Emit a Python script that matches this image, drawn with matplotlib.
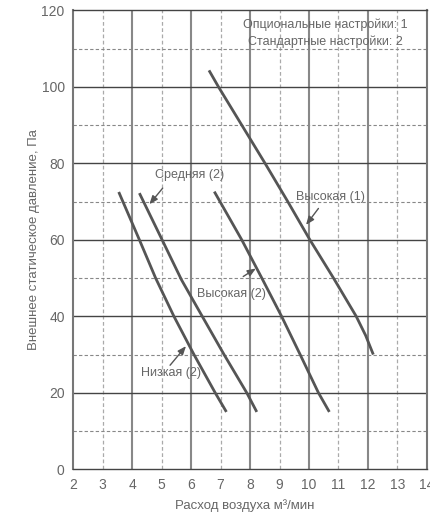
import matplotlib
matplotlib.use("Agg")
import matplotlib.pyplot as plt

plt.rcParams['font.family'] = ['Liberation Sans', 'DejaVu Sans']

# Curves (airflow m3/min, static pressure Pa)
low_x = [3.55, 4.25, 4.8, 5.42, 6.1, 6.82, 7.2]
low_y = [72.5, 60, 50, 40, 30, 20, 15]
mid_x = [4.25, 5.02, 5.68, 6.38, 7.12, 7.89, 8.23]
mid_y = [72.2, 60, 49.5, 40, 30, 20, 15]
high2_x = [6.79, 7.72, 8.4, 9.07, 9.7, 10.32, 10.69]
high2_y = [72.6, 60, 50, 40, 30, 20, 15]
high1_x = [6.61, 6.93, 7.72, 8.51, 9.28, 10.03, 10.83, 11.6, 11.92, 12.18]
high1_y = [104.3, 100, 90, 80, 70, 60, 50, 40, 35, 30]

x_ticks = list(range(2, 15))
y_ticks = [0, 20, 40, 60, 80, 100, 120]

labels = ["Низкая (2)", "Средняя (2)", "Высокая (2)", "Высокая (1)"]
label_xy = [(5.31, 25.2), (5.95, 77.0), (7.36, 45.8), (10.71, 71.1)]
arrow_tail = [(5.29, 27.2), (5.04, 73.5), (7.77, 50.4), (10.32, 68.2)]
arrow_head = [(5.83, 32.2), (4.59, 69.3), (8.2, 52.5), (9.9, 63.9)]
note_lines = ["Опциональные настройки: 1", "Стандартные настройки: 2"]

fig = plt.figure(figsize=(4.3, 5.23), dpi=100)
ax = fig.add_axes([0.1698, 0.1027, 0.8232, 0.8776])
ax.set_xlim(2, 14)
ax.set_ylim(0, 120)

line_col = '#555555'
text_col = '#666666'
# grid
for xv in x_ticks[1:-1]:
    if xv % 2 == 0:
        ax.axvline(xv, color='#888888', lw=1.5, zorder=1)
    else:
        ax.axvline(xv, color='#aaaaaa', lw=0.9, ls=(0, (3, 2)), zorder=1)
for yv in range(10, 120, 10):
    if yv % 20 == 0:
        ax.axhline(yv, color='#444444', lw=1.0, zorder=1)
    else:
        ax.axhline(yv, color='#888888', lw=0.8, ls=(0, (3, 2)), zorder=1)

for sp in ['top', 'bottom']:
    ax.spines[sp].set_color('#444444')
    ax.spines[sp].set_linewidth(1.0)
for sp in ['left', 'right']:
    ax.spines[sp].set_color('#777777')
    ax.spines[sp].set_linewidth(1.5)

for xs, ys in [(low_x, low_y), (mid_x, mid_y), (high2_x, high2_y), (high1_x, high1_y)]:
    ax.plot(xs, ys, color=line_col, lw=2.0, solid_capstyle='butt', zorder=3)

ax.set_xticks(x_ticks)
ax.set_yticks(y_ticks)
ax.tick_params(length=0, labelsize=10, labelcolor=text_col, pad=6)

for lab, (tx, ty), (ax0, ay0), (hx, hy) in zip(labels, label_xy, arrow_tail, arrow_head):
    ax.text(tx, ty, lab, fontsize=9, color=text_col, ha='center', va='center', zorder=4)
    ax.annotate('', xy=(hx, hy), xytext=(ax0, ay0),
                arrowprops=dict(arrowstyle='-|>,head_length=0.5,head_width=0.2',
                                color=line_col, lw=1.0, shrinkA=0, shrinkB=0), zorder=4)

ax.text(10.54, 116.3, note_lines[0], fontsize=9, color=text_col, ha='center', va='center')
ax.text(10.54, 111.8, note_lines[1], fontsize=9, color=text_col, ha='center', va='center')

ax.set_xlabel("Расход воздуха м³/мин", fontsize=9.5, color=text_col)
ax.set_ylabel("Внешнее статическое давление, Па", fontsize=9.5, color=text_col)
ax.xaxis.set_label_coords(0.486, -0.065)
ax.yaxis.set_label_coords(-0.094, 0.5)

fig.savefig('out.png', dpi=100)
